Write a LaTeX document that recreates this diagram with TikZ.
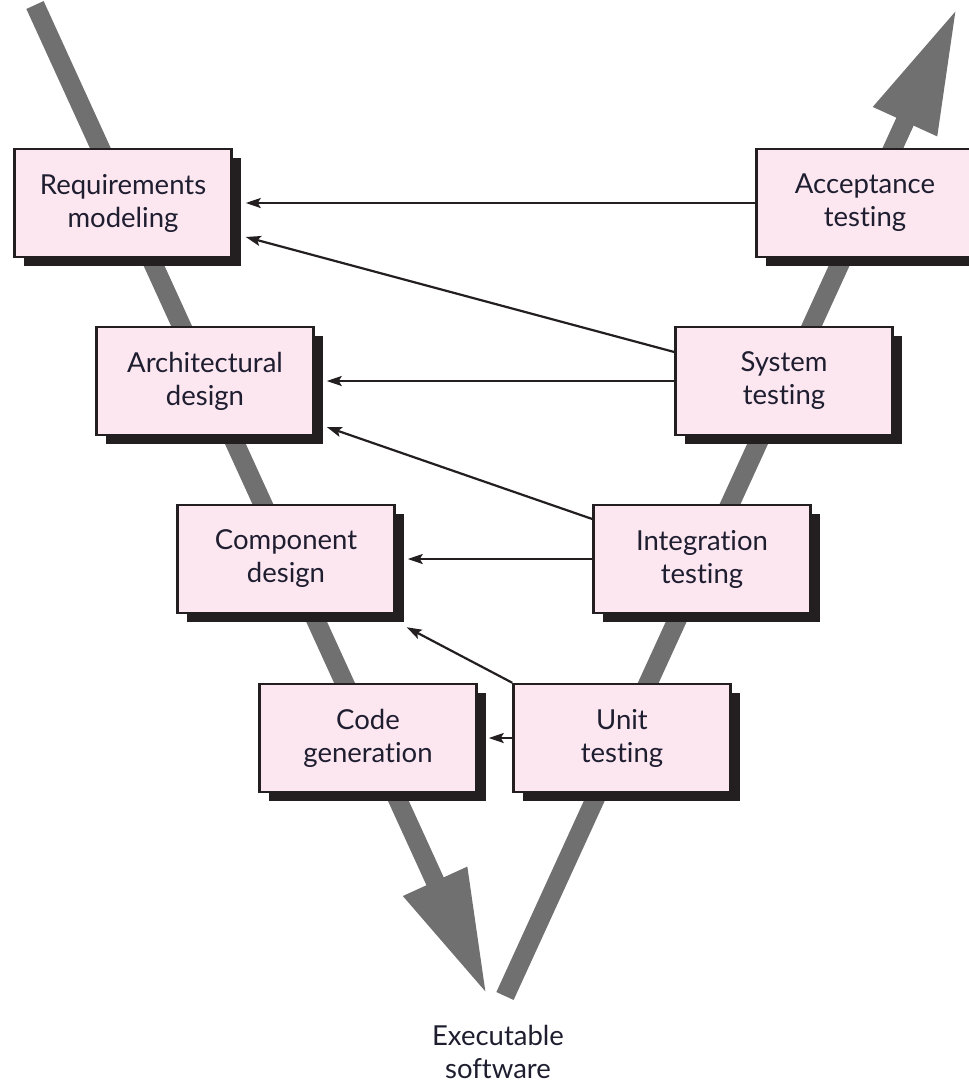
\documentclass[tikz,border=0pt]{standalone}
\usepackage{fontspec}
\setmainfont{Lato}[Ligatures={NoCommon,NoDiscretionary}]
\usetikzlibrary{arrows.meta,shadows}
\definecolor{pinkbox}{RGB}{252,230,240}
\definecolor{edgedark}{RGB}{35,31,32}
\definecolor{inkdark}{RGB}{30,30,48}
\definecolor{bandgray}{RGB}{112,112,112}
\newcommand{\phasefont}{\fontsize{27.5}{33}\selectfont}
\tikzstyle{phase}=[rectangle, draw=edgedark, line width=2.5pt, fill=pinkbox, minimum width=217pt, minimum height=108pt, inner sep=0pt, align=center, font=\phasefont, text=inkdark, drop shadow={shadow xshift=9pt, shadow yshift=-9pt, fill=edgedark, opacity=1}]
\tikzstyle{band}=[draw=bandgray, line width=19pt, -{Triangle[length=125pt, width=65pt]}]
\tikzstyle{link}=[draw=edgedark, line width=2.2pt, -{Stealth[length=15pt, width=10pt, inset=3pt]}]
\tikzstyle{annot}=[align=center, font=\phasefont, text=inkdark]
\begin{document}
\begin{tikzpicture}[x=1pt, y=-1pt]
	\useasboundingbox (0,0) rectangle (969,1088);

	% the two legs of the V
	\draw[band] (35,5) -- (487,995);
	\draw[band] (505,996) -- (957,8);

	\node[phase](req) at (123,203){Requirements\\modeling};
	\node[phase](arch) at (205,381){Architectural\\design};
	\node[phase](comp) at (286,559){Component\\design};
	\node[phase](code) at (368,738){Code\\generation};

	\node[phase](accept) at (865,203){Acceptance\\testing};
	\node[phase](sys) at (784,381){System\\testing};
	\node[phase](integ) at (702,559){Integration\\testing};
	\node[phase](unit) at (622,738){Unit\\testing};

	\node[annot](exe) at (498,1052){Executable\\software};

	\draw[link] (accept.west) -- ([xshift=13pt]req.east);
	\draw[link] ([yshift=29pt]sys.west) -- ([xshift=13pt, yshift=-34pt]req.east);
	\draw[link] (sys.west) -- ([xshift=12pt]arch.east);
	\draw[link] ([yshift=40pt]integ.west) -- ([xshift=12pt, yshift=-46pt]arch.east);
	\draw[link] (integ.west) -- ([xshift=12pt]comp.east);
	\draw[link] (unit.north west) -- ([xshift=11pt, yshift=-13pt]comp.south east);
	\draw[link] (unit.west) -- ([xshift=11pt]code.east);

\end{tikzpicture}
\end{document}
